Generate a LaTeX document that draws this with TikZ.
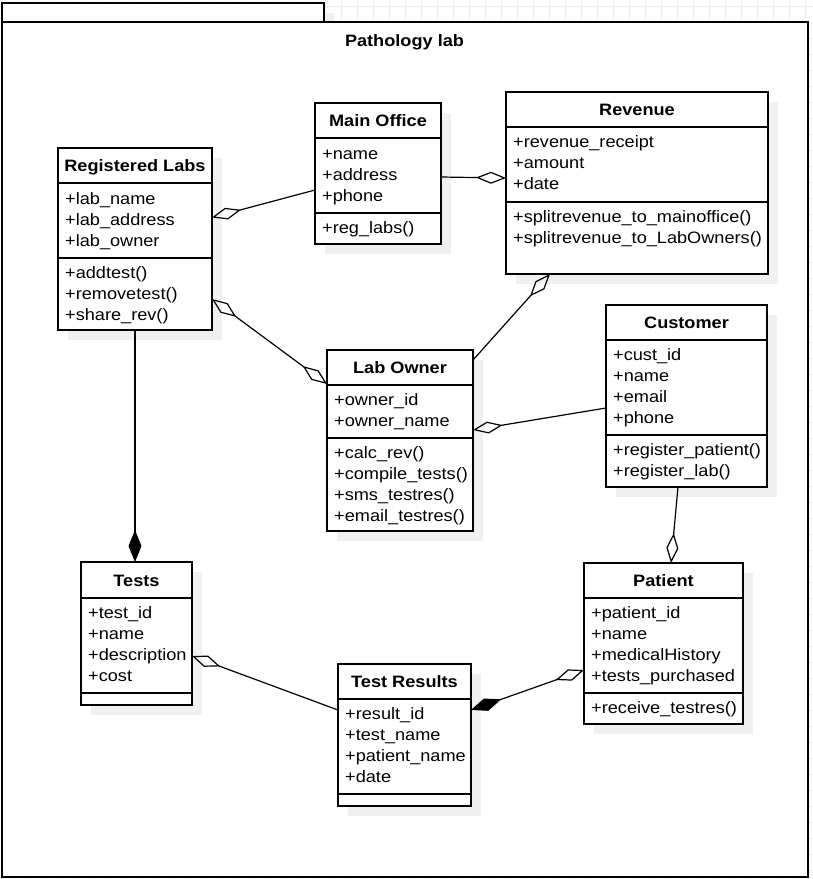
\documentclass[tikz,border=0pt]{standalone}
\usepackage{fontspec}
\setmainfont{Liberation Sans}[FakeStretch=1.1]
\usetikzlibrary{arrows.meta,calc}
\definecolor{shadowc}{HTML}{F0F0F0}
\definecolor{gridc}{HTML}{EEEEEE}
\tikzset{
  classbox/.style={draw=black, line width=1.2pt, fill=white, inner sep=0pt, outer sep=0pt, anchor=north west},
  sepline/.style={line width=1.2pt},
  shadowbox/.style={fill=shadowc},
  titletext/.style={font=\fontsize{16.5}{20}\selectfont\bfseries, anchor=base, inner sep=0pt},
  rowtext/.style={font=\fontsize{16.5}{20}\selectfont, anchor=base west, inner sep=0pt},
  conn/.style={line width=1.2pt, line join=miter},
  odia/.tip={Diamond[open, length=30pt, width=12pt]},
  fdia/.tip={Diamond[length=32pt, width=13pt]},
}
% #1 name, #2 x1, #3 y1, #4 x2, #5 header bottom, #6 divider, #7 bottom, #8 title
\newcommand\umlclass[8]{%
  \fill[shadowbox] (#2+10,#3+10) rectangle (#4+10,#7+10);
  \node[classbox, minimum width={#4-#2}, minimum height={#7-#3}] (#1) at (#2,#3) {};
  \draw[sepline] (#1.west |- 0,#5) -- (#1.east |- 0,#5) (#1.west |- 0,#6) -- (#1.east |- 0,#6);
  \node[titletext] (#1-t) at ({(#2+#4)/2},{(#3+#5)/2+6}) {#8};
}
% #1 prefix, #2 box x1, #3 first baseline, #4 list
\newcommand\umlrows[4]{%
  \foreach \t [count=\i from 0] in {#4} {\node[rowtext] (#1-\i) at (#2+7,{#3+21*\i}) {\t};}
}
\begin{document}
\begin{tikzpicture}[x=1pt, y=-1pt]
\useasboundingbox (0,0) rectangle (813,879);
% background grid outside the package
\foreach \gx in {5.7,21.7,...,813} \draw[gridc, line width=0.6pt] (\gx,0) -- (\gx,879);
\foreach \gy in {6.7,22.7,...,879} \draw[gridc, line width=0.6pt] (0,\gy) -- (813,\gy);
% package frame
\fill[shadowbox] (12,13) rectangle (334,32);
\node[classbox, minimum width=322, minimum height=19] (tab) at (2,3) {};
\node[classbox, minimum width=806, minimum height=855] (pkg) at (2,22) {};
\node[titletext] (pkgtitle) at (404.5,46.7) {Pathology lab};

% classes
\umlclass{RL}{58}{148}{212}{183}{258}{330}{Registered Labs}
\umlrows{RLa}{58}{204}{+lab\_name,+lab\_address,+lab\_owner}
\umlrows{RLm}{58}{278.5}{+addtest(),+removetest(),+share\_rev()}

\umlclass{MO}{315}{103}{441}{138}{213}{244}{Main Office}
\umlrows{MOa}{315}{159}{+name,+address,+phone}
\umlrows{MOm}{315}{233.5}{+reg\_labs()}

\umlclass{REV}{506}{92}{768}{127}{202}{274}{Revenue}
\umlrows{REVa}{506}{147.5}{+revenue\_receipt,+amount,+date}
\umlrows{REVm}{506}{222.5}{+splitrevenue\_to\_mainoffice(),+splitrevenue\_to\_LabOwners()}

\umlclass{LO}{327}{350}{473}{385}{438}{531}{Lab Owner}
\umlrows{LOa}{327}{405.5}{+owner\_id,+owner\_name}
\umlrows{LOm}{327}{458.5}{+calc\_rev(),+compile\_tests(),+sms\_testres(),+email\_testres()}

\umlclass{CU}{606}{305}{767}{340}{435}{487}{Customer}
\umlrows{CUa}{606}{360.5}{+cust\_id,+name,+email,+phone}
\umlrows{CUm}{606}{455.5}{+register\_patient(),+register\_lab()}

\umlclass{TE}{81}{562}{192}{598}{693}{705}{Tests}
\umlrows{TEa}{81}{618.5}{+test\_id,+name,+description,+cost}

\umlclass{TR}{338}{664}{471}{699}{794}{806}{Test Results}
\umlrows{TRa}{338}{719.5}{+result\_id,+test\_name,+patient\_name,+date}

\umlclass{PA}{584}{563}{743}{598}{693}{724}{Patient}
\umlrows{PAa}{584}{618.5}{+patient\_id,+name,+medicalHistory,+tests\_purchased}
\umlrows{PAm}{584}{713.5}{+receive\_testres()}

% connectors
\draw[conn, -{odia}] ([yshift=-87pt]MO.north west) -- ([yshift=-69.5pt]RL.north east);
\draw[conn, -{odia}] ([yshift=-74pt]MO.north east) -- ([yshift=-86pt]REV.north west);
\draw[conn, -{odia}] ([yshift=-10pt]LO.north east) -- ([xshift=44pt]REV.south west);
\draw[conn, {odia}-{odia}] ([yshift=-151pt]RL.north east) -- ([yshift=-34pt]LO.north west);
\draw[conn, -{odia}] ([yshift=-103pt]CU.north west) -- ([yshift=-80pt]LO.north east);
\draw[conn, -{odia}] ([xshift=72pt]CU.south west) -- ([xshift=87pt]PA.north west);
\draw[conn, -{fdia}] ([xshift=77pt]RL.south west) -- ([xshift=54pt]TE.north west);
\draw[conn, {odia}-] ([yshift=-94pt]TE.north east) -- ([yshift=-46pt]TR.north west);
\draw[conn, {fdia}-{odia}] ([yshift=-46pt]TR.north east) -- ([yshift=-107pt]PA.north west);
\end{tikzpicture}
\end{document}
